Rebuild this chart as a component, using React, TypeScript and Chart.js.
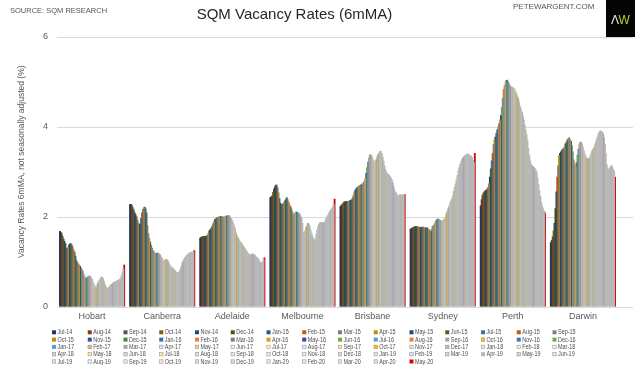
import { useEffect, useRef } from "react";
import { Chart, registerables } from "chart.js";

Chart.register(...registerables);

const cities = ["Hobart", "Canberra", "Adelaide", "Melbourne", "Brisbane", "Sydney", "Perth", "Darwin"];

const months = [
  "Jul-14", "Aug-14", "Sep-14", "Oct-14", "Nov-14", "Dec-14",
  "Jan-15", "Feb-15", "Mar-15", "Apr-15", "May-15", "Jun-15", "Jul-15", "Aug-15", "Sep-15", "Oct-15", "Nov-15", "Dec-15",
  "Jan-16", "Feb-16", "Mar-16", "Apr-16", "May-16", "Jun-16", "Jul-16", "Aug-16", "Sep-16", "Oct-16", "Nov-16", "Dec-16",
  "Jan-17", "Feb-17", "Mar-17", "Apr-17", "May-17", "Jun-17", "Jul-17", "Aug-17", "Sep-17", "Oct-17", "Nov-17", "Dec-17",
  "Jan-18", "Feb-18", "Mar-18", "Apr-18", "May-18", "Jun-18", "Jul-18", "Aug-18", "Sep-18", "Oct-18", "Nov-18", "Dec-18",
  "Jan-19", "Feb-19", "Mar-19", "Apr-19", "May-19", "Jun-19", "Jul-19", "Aug-19", "Sep-19", "Oct-19", "Nov-19", "Dec-19",
  "Jan-20", "Feb-20", "Mar-20", "Apr-20", "May-20",
];

const hobart = [1.67, 1.65, 1.62, 1.56, 1.50, 1.45, 1.40, 1.30, 1.29, 1.32, 1.37, 1.39, 1.40, 1.37, 1.32, 1.26, 1.21, 1.12, 1.02, 0.98, 0.95, 0.92, 0.89, 0.86, 0.82, 0.78, 0.71, 0.66, 0.63, 0.62, 0.65, 0.67, 0.68, 0.67, 0.64, 0.60, 0.55, 0.49, 0.45, 0.40, 0.44, 0.51, 0.56, 0.58, 0.62, 0.65, 0.65, 0.62, 0.56, 0.49, 0.44, 0.41, 0.40, 0.42, 0.44, 0.47, 0.49, 0.50, 0.52, 0.54, 0.55, 0.56, 0.57, 0.58, 0.59, 0.60, 0.62, 0.68, 0.76, 0.84, 0.92];
const canberra = [2.27, 2.27, 2.25, 2.20, 2.15, 2.09, 2.05, 2.00, 1.93, 1.86, 1.83, 1.83, 1.96, 2.08, 2.16, 2.20, 2.21, 2.17, 2.08, 1.80, 1.62, 1.52, 1.43, 1.36, 1.30, 1.25, 1.22, 1.19, 1.18, 1.18, 1.19, 1.18, 1.16, 1.14, 1.10, 1.07, 1.03, 1.02, 1.03, 1.04, 1.04, 1.02, 0.98, 0.93, 0.90, 0.88, 0.86, 0.84, 0.82, 0.80, 0.77, 0.76, 0.75, 0.76, 0.79, 0.84, 0.90, 0.97, 1.02, 1.06, 1.09, 1.12, 1.14, 1.16, 1.18, 1.19, 1.20, 1.21, 1.21, 1.22, 1.24];
const adelaide = [1.52, 1.54, 1.55, 1.56, 1.56, 1.56, 1.56, 1.57, 1.59, 1.63, 1.68, 1.71, 1.74, 1.78, 1.84, 1.89, 1.93, 1.95, 1.97, 1.98, 1.99, 2.00, 2.00, 2.00, 2.00, 1.99, 1.99, 2.00, 2.01, 2.01, 2.02, 2.02, 2.01, 1.98, 1.95, 1.91, 1.86, 1.80, 1.73, 1.63, 1.57, 1.53, 1.49, 1.45, 1.43, 1.41, 1.37, 1.34, 1.31, 1.28, 1.25, 1.22, 1.19, 1.16, 1.15, 1.15, 1.16, 1.17, 1.16, 1.15, 1.13, 1.10, 1.09, 1.07, 1.03, 0.99, 0.96, 0.97, 1.00, 1.04, 1.08];
const melbourne = [2.42, 2.44, 2.46, 2.54, 2.61, 2.66, 2.70, 2.70, 2.64, 2.53, 2.40, 2.30, 2.27, 2.27, 2.29, 2.32, 2.35, 2.39, 2.42, 2.38, 2.32, 2.26, 2.22, 2.17, 2.11, 2.04, 2.06, 2.08, 2.10, 2.10, 2.09, 2.07, 2.05, 2.01, 1.97, 1.85, 1.64, 1.65, 1.69, 1.76, 1.81, 1.85, 1.84, 1.78, 1.70, 1.62, 1.56, 1.51, 1.47, 1.50, 1.60, 1.70, 1.78, 1.83, 1.86, 1.87, 1.87, 1.86, 1.86, 1.87, 1.92, 1.97, 2.01, 2.04, 2.08, 2.12, 2.15, 2.18, 2.22, 2.28, 2.39];
const brisbane = [2.22, 2.25, 2.27, 2.30, 2.32, 2.33, 2.34, 2.34, 2.34, 2.34, 2.35, 2.36, 2.37, 2.40, 2.46, 2.53, 2.58, 2.62, 2.64, 2.66, 2.68, 2.69, 2.70, 2.71, 2.73, 2.75, 2.79, 2.85, 2.96, 3.09, 3.21, 3.30, 3.37, 3.38, 3.35, 3.30, 3.25, 3.22, 3.22, 3.27, 3.33, 3.38, 3.42, 3.46, 3.45, 3.41, 3.33, 3.23, 3.13, 3.05, 2.99, 2.96, 2.94, 2.92, 2.89, 2.86, 2.82, 2.75, 2.66, 2.58, 2.54, 2.51, 2.48, 2.45, 2.47, 2.49, 2.48, 2.47, 2.49, 2.49, 2.49];
const sydney = [1.72, 1.74, 1.75, 1.76, 1.77, 1.77, 1.78, 1.77, 1.77, 1.77, 1.76, 1.75, 1.76, 1.77, 1.76, 1.75, 1.75, 1.75, 1.75, 1.73, 1.71, 1.69, 1.67, 1.72, 1.78, 1.80, 1.84, 1.88, 1.91, 1.94, 1.95, 1.94, 1.92, 1.91, 1.90, 1.91, 1.93, 1.95, 1.99, 2.06, 2.12, 2.17, 2.24, 2.31, 2.35, 2.39, 2.46, 2.56, 2.65, 2.73, 2.82, 2.91, 3.01, 3.09, 3.16, 3.22, 3.27, 3.31, 3.33, 3.35, 3.37, 3.39, 3.39, 3.39, 3.37, 3.36, 3.34, 3.32, 3.25, 3.20, 3.41];
const perth = [2.24, 2.38, 2.48, 2.52, 2.55, 2.57, 2.59, 2.61, 2.65, 2.73, 2.88, 3.06, 3.24, 3.40, 3.60, 3.71, 3.77, 3.85, 3.93, 4.00, 4.07, 4.15, 4.25, 4.43, 4.63, 4.83, 4.92, 4.98, 5.03, 5.04, 5.00, 4.96, 4.91, 4.89, 4.88, 4.87, 4.86, 4.83, 4.78, 4.73, 4.67, 4.62, 4.54, 4.45, 4.39, 4.32, 4.25, 4.15, 4.04, 3.93, 3.83, 3.70, 3.52, 3.36, 3.24, 3.17, 3.13, 3.11, 3.09, 3.07, 3.04, 2.99, 2.86, 2.72, 2.58, 2.45, 2.32, 2.24, 2.17, 2.13, 2.08];
const darwin = [1.42, 1.47, 1.55, 1.68, 1.85, 2.18, 2.55, 2.88, 3.13, 3.35, 3.41, 3.44, 3.48, 3.50, 3.52, 3.56, 3.62, 3.66, 3.70, 3.74, 3.76, 3.72, 3.68, 3.58, 3.44, 3.26, 3.17, 3.11, 3.20, 3.37, 3.50, 3.60, 3.66, 3.66, 3.62, 3.55, 3.47, 3.40, 3.34, 3.30, 3.29, 3.28, 3.30, 3.35, 3.40, 3.46, 3.50, 3.53, 3.60, 3.66, 3.73, 3.79, 3.85, 3.89, 3.91, 3.90, 3.88, 3.84, 3.76, 3.60, 3.40, 3.15, 3.08, 3.03, 3.06, 3.11, 3.14, 3.10, 3.05, 3.01, 2.88];

const seriesByCity = [hobart, canberra, adelaide, melbourne, brisbane, sydney, perth, darwin];

const monthColors = [
  "#203864", "#843C0C", "#525252", "#7F6000", "#1F4E79", "#385723",
  "#2F5597", "#C55A11", "#7B7B7B", "#BF9000", "#264478", "#43682B",
  "#2E75B6", "#C55A11", "#7F7F7F", "#BF9000", "#2F5597", "#548235",
  "#2E75B6", "#ED7D31", "#7F7F7F", "#E0A000", "#2F4F8F", "#70AD47",
  "#5B9BD5", "#ED7D31", "#A5A5A5", "#FFC000", "#4472C4", "#70AD47",
  "#5B9BD5", "#F4B183", "#A5A5A5", "#DAE3F3", "#F8CBAD", "#EDEDED",
  "#FFF2CC", "#DEEBF7", "#FFE699", "#FFC000", "#DAE3F3", "#A9D18E",
  "#DEEBF7", "#FBE5D6", "#EDEDED", "#BDD7EE", "#FFE699", "#DBDBDB",
  "#FFE699", "#DAE3F3", "#E2F0D9", "#DEEBF7", "#FBE5D6", "#D6DCE5",
  "#F2E0E0", "#DAE3F3", "#E8D0D8", "#ADB9CA", "#E6D0D6", "#E7E6E6",
  "#F2E0E0", "#DEEBF7", "#E2F0D9", "#FBE5D6", "#DAE3F3", "#D9D9D9",
  "#DEEBF7", "#F8E0E0", "#E2F0D9", "#DAE3F3", "#E00000",
];

const yTicks = [0, 2, 4, 6];

const FONT = "'Liberation Sans', Arial, sans-serif";
const TEXT = "#595959";

function rgb(h: string): number[] {
  const n = parseInt(h.slice(1), 16);
  return [(n >> 16) & 255, (n >> 8) & 255, n & 255];
}
function lum(h: string): number {
  const [r, g, b] = rgb(h);
  return (0.299 * r + 0.587 * g + 0.114 * b) / 255;
}
function mix(a: string, b: string, t: number): string {
  const A = rgb(a);
  const B = rgb(b);
  const c = A.map((v, i) => Math.round(v * (1 - t) + B[i] * t));
  return `rgb(${c[0]},${c[1]},${c[2]})`;
}
function barColor(c: string): string {
  const l = lum(c);
  if (l > 0.72) return mix(c, "#8a8a8a", 0.5);
  if (l > 0.45) return mix(c, "#707070", 0.25);
  return mix(c, "#202020", 0.1);
}

const gridPlugin = {
  id: "extGrid",
  beforeDatasetsDraw(chart: any) {
    const { ctx, chartArea, scales } = chart;
    ctx.save();
    ctx.strokeStyle = "#d9d9d9";
    ctx.lineWidth = 1;
    yTicks.forEach((t) => {
      const y = Math.round(scales.y.getPixelForValue(t)) + 0.5;
      ctx.beginPath();
      ctx.moveTo(chartArea.left, y);
      ctx.lineTo(633, y);
      ctx.stroke();
    });
    ctx.restore();
  },
};

const headerPlugin = {
  id: "header",
  afterDraw(chart: any) {
    const { ctx, chartArea } = chart;
    ctx.save();
    ctx.textBaseline = "alphabetic";
    ctx.fillStyle = "#555555";
    ctx.font = `7.5px ${FONT}`;
    ctx.textAlign = "left";
    ctx.fillText("SOURCE: SQM RESEARCH", 10, 12.5);
    ctx.font = `8px ${FONT}`;
    ctx.fillText("PETEWARGENT.COM", 513, 9);
    ctx.fillStyle = "#262626";
    ctx.font = `15px ${FONT}`;
    ctx.textAlign = "center";
    ctx.fillText("SQM Vacancy Rates (6mMA)", 294.5, 18.5);
    // logo
    ctx.fillStyle = "#050505";
    ctx.fillRect(606, 0, 29, 37);
    ctx.font = `12px ${FONT}`;
    ctx.textAlign = "left";
    ctx.fillStyle = "#e6e6e6";
    ctx.fillText("Λ", 611, 24);
    ctx.fillStyle = "#c9cc2a";
    ctx.fillText("W", 618.5, 24);
    // y axis title
    ctx.translate(22, (chartArea.top + chartArea.bottom) / 2 - 10);
    ctx.rotate(-Math.PI / 2);
    ctx.textAlign = "center";
    ctx.textBaseline = "middle";
    ctx.fillStyle = TEXT;
    ctx.font = `8.5px ${FONT}`;
    ctx.fillText("Vacancy Rates 6mMA, not seasonally adjusted (%)", 0, 0);
    ctx.restore();
  },
};

const legendPlugin = {
  id: "gridLegend",
  afterDraw(chart: any) {
    const ctx = chart.ctx;
    ctx.save();
    ctx.font = `6.5px ${FONT}`;
    ctx.textBaseline = "middle";
    ctx.textAlign = "left";
    months.forEach((m, i) => {
      const col = i % 15;
      const row = Math.floor(i / 15);
      const x = 52 + col * 35.75;
      const y = 332.3 + row * 7.3;
      const c = monthColors[i];
      ctx.fillStyle = c;
      ctx.fillRect(x, y - 2, 4, 4);
      if (lum(c) > 0.72) {
        ctx.strokeStyle = "#a0a0a0";
        ctx.lineWidth = 0.6;
        ctx.strokeRect(x + 0.3, y - 1.7, 3.4, 3.4);
      }
      ctx.fillStyle = "#4d4d4d";
      const w = ctx.measureText(m).width;
      ctx.fillText(m, x + 5.5, y + 0.3, w * 0.84);
    });
    ctx.restore();
  },
};

export default function App() {
  const ref = useRef<HTMLCanvasElement | null>(null);

  useEffect(() => {
    if (!ref.current) return;
    const datasets = months.map((m, j) => ({
      label: m,
      data: seriesByCity.map((s) => s[j]),
      backgroundColor: barColor(monthColors[j]),
      borderWidth: 0,
      inflateAmount: 0.45,
    }));
    const chart = new Chart(ref.current, {
      type: "bar",
      data: { labels: cities, datasets },
      options: {
        responsive: false,
        animation: false,
        layout: { padding: { top: 37, right: 22, left: 0, bottom: 0 } },
        plugins: {
          legend: { display: false },
          tooltip: { enabled: false },
          title: { display: false },
        },
        datasets: { bar: { categoryPercentage: 0.93, barPercentage: 1 } },
        scales: {
          x: {
            grid: { display: false, drawTicks: false },
            border: { display: false },
            ticks: {
              color: TEXT,
              font: { family: FONT, size: 9 },
              padding: 5,
              maxRotation: 0,
              autoSkip: false,
            },
            afterFit: (s: any) => {
              s.height = 58.5;
            },
          },
          y: {
            min: 0,
            max: 6,
            ticks: {
              stepSize: 2,
              color: TEXT,
              font: { family: FONT, size: 9 },
              padding: 9,
            },
            grid: { display: false, drawTicks: false },
            border: { display: false },
            afterFit: (s: any) => {
              s.width = 57;
            },
          },
        },
      } as any,
      plugins: [gridPlugin, headerPlugin, legendPlugin],
    });
    return () => chart.destroy();
  }, []);

  return (
    <div style={{ position: "fixed", left: 0, top: 0, width: 640, height: 365, background: "#ffffff" }}>
      <canvas ref={ref} width={640} height={365} style={{ width: 640, height: 365, display: "block" }} />
    </div>
  );
}
